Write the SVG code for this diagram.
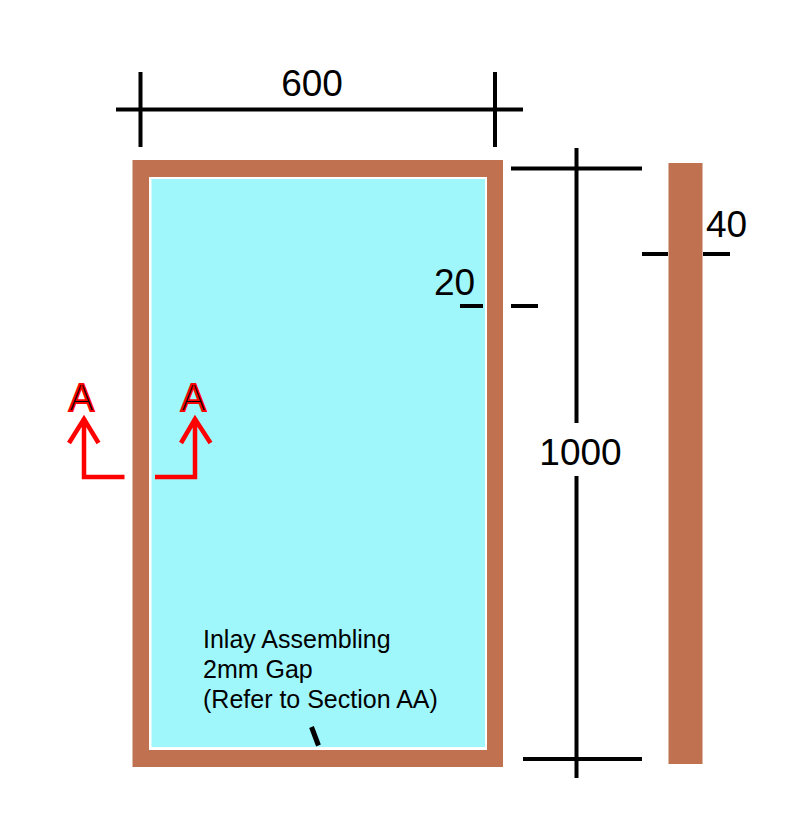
<svg xmlns="http://www.w3.org/2000/svg" width="794" height="823" viewBox="0 0 794 823">
<style>
.dim{stroke:#000;stroke-width:4;fill:none}
.gap{stroke:#000;stroke-width:5;fill:none}
.sec{stroke:#f00;stroke-width:4.500;fill:none}
.t{font-family:"Liberation Sans",Arial,sans-serif;fill:#000}
.big{font-size:37px}
.note{font-size:25px}
.a{font-size:38px;fill:#000;stroke:#f00;stroke-width:1.800;font-family:"Liberation Sans",Arial,sans-serif}
.wood{fill:#c0714f}
</style>
<rect width="794" height="823" fill="#fff"/>
<g id="frame">
<rect class="wood" x="132.500" y="160" width="370.500" height="607"/>
<rect x="149" y="177" width="338" height="573" fill="#fff"/>
<rect x="151.500" y="179" width="333.500" height="568" fill="#9ff7fb"/>
</g>
<g id="side-profile"><rect class="wood" x="668.500" y="163" width="34" height="601"/></g>
<g id="connectors">
<path class="dim" d="M116 109.500H523M140.500 72V147M495 72V147"/>
<path class="dim" d="M511 168.500H642M523 759H642M576.500 148V423M576.500 476V778"/>
<path class="dim" d="M460 306H483M511 306H538"/>
<path class="dim" d="M642 254H668M703 254H730"/>
<path class="gap" d="M311.500 727L318.500 745.500"/>
<path class="sec" d="M124.500 477H84V418M69 443L84 419L98.500 443"/>
<path class="sec" d="M155 477H195V418M181 443L195 419L210.500 443"/>
</g>
<g id="labels">
<text class="t big" x="312" y="96" text-anchor="middle">600</text>
<text class="t big" x="726.500" y="237" text-anchor="middle">40</text>
<text class="t big" x="454.500" y="295" text-anchor="middle">20</text>
<text class="t big" x="580.500" y="465" text-anchor="middle">1000</text>
<text class="t note" x="203" y="648">Inlay Assembling</text>
<text class="t note" x="203" y="678">2mm Gap</text>
<text class="t note" x="203" y="708">(Refer to Section AA)</text>
<text class="a" x="81.500" y="410.500" text-anchor="middle">A</text>
<text class="a" x="193.500" y="410.500" text-anchor="middle">A</text>
</g>
</svg>
